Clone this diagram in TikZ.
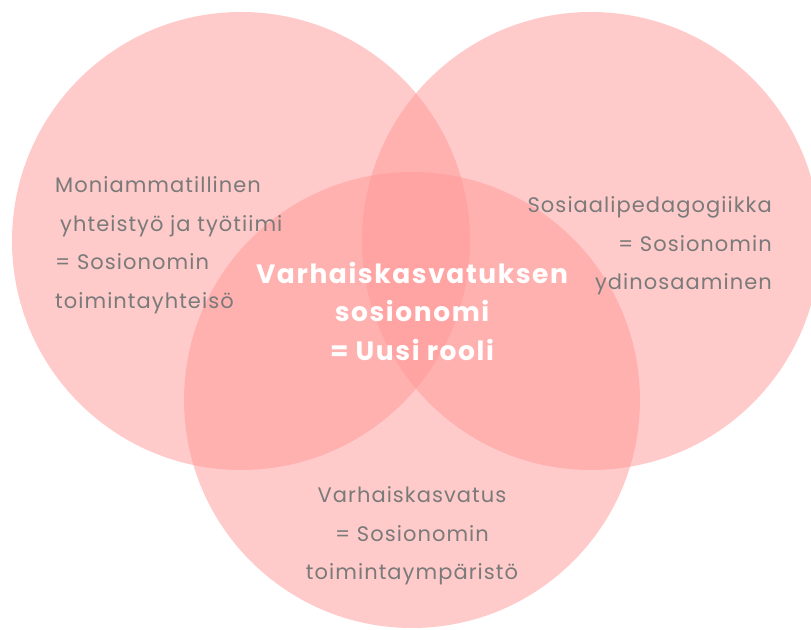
\documentclass[tikz,border=0pt]{standalone}
\usepackage{fontspec}
\setmainfont{Poppins}
\newfontfamily\lblfont[LetterSpace=5]{Poppins}
\newfontfamily\midfont[LetterSpace=6]{Poppins}
\usetikzlibrary{positioning}
\definecolor{vennpink}{RGB}{255,153,151}
\definecolor{textgray}{RGB}{122,122,122}
\tikzset{
    circ/.style={fill=vennpink, fill opacity=0.5, draw=none},
    lbl/.style={text=textgray, inner sep=0pt, font=\lblfont\fontsize{21}{38.5}\selectfont},
    mid/.style={text=white, inner sep=0pt, align=center, font=\midfont\bfseries\fontsize{26.5}{38.5}\selectfont}
}

\begin{document}
\begin{tikzpicture}[x=1pt,y=-1pt]
        \useasboundingbox (0,0) rectangle (811,629);
        \clip (0,0) rectangle (811,629);
        \fill[white] (0,0) rectangle (811,629);

        % the three circles
        \coordinate (cl) at (241,241);
        \coordinate (cr) at (591,241);
        \coordinate (cb) at (412,400);
        \fill[circ] (cl) circle (229);
        \fill[circ] (cr) circle (229);
        \fill[circ] (cb) circle (228);

        \node[lbl, align=left, anchor=west] (moni) at (55,245)
            {Moniammatillinen\\\hspace*{5pt}yhteistyö ja työtiimi\\= Sosionomin\\toimintayhteisö};
        \node[lbl, align=right, anchor=east] (sosped) at (772,246)
            {Sosiaalipedagogiikka\\= Sosionomin\\ydinosaaminen};
        \node[lbl, align=center] (varh) at (412,536)
            {Varhaiskasvatus\\= Sosionomin\\toimintaympäristö};

        \node[mid] (uusi) at (412,311) {Varhaiskasvatuksen\\sosionomi\\= Uusi rooli};
    \end{tikzpicture}
\end{document}
